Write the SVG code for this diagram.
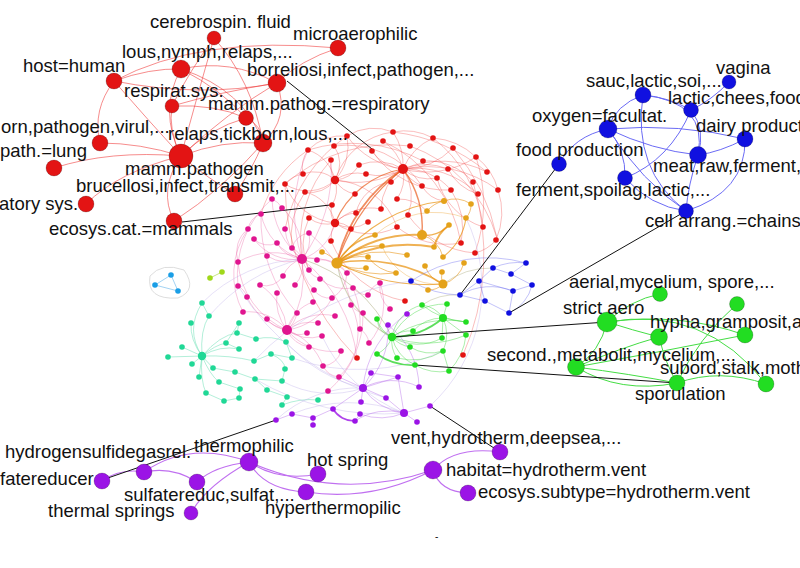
<svg xmlns="http://www.w3.org/2000/svg" width="800" height="568" viewBox="0 0 800 568">
<style>
text{font-family:"Liberation Sans",Arial,sans-serif;font-size:18.5px;fill:#111}
.e{fill:none;stroke-width:.8}
.er{stroke:#f04848;stroke-opacity:.45}
.eo{stroke:#e8900a;stroke-opacity:.7}
.ero{stroke:#e8500c;stroke-opacity:.65}
.ep{stroke:#e8509a;stroke-opacity:.4}
.et{stroke:#40d8a0;stroke-opacity:.5}
.eg{stroke:#40d840;stroke-opacity:.55}
.eb{stroke:#6a6af0;stroke-opacity:.5}
.eu{stroke:#b060e8;stroke-opacity:.5}
.el{stroke:#b8a8e8;stroke-opacity:.45}
.ex{stroke:#a8a878;stroke-opacity:.5}
.oR{fill:none;stroke:#f03a3a;stroke-width:.9;stroke-opacity:.65}
.oB{fill:none;stroke:#6b6bf5;stroke-width:1}
.oG{fill:none;stroke:#44dd44;stroke-width:1}
.oP{fill:none;stroke:#c070f0;stroke-width:1.1}
.lead{fill:none;stroke:#111;stroke-width:1}
.r{fill:#e31414}.o{fill:#e4a21a}.p{fill:#e0158f}.t{fill:#20d896}.g{fill:#22dd22}.b{fill:#1010e0}.u{fill:#9b14e6}.lb{fill:#1a9ee6}.yg{fill:#a0d81a}
circle.N{stroke:#000;stroke-opacity:.25;stroke-width:.8}
</style>

<g id="connectors">
<g class="e er">
<path d="M403,169A60,60 0 0 0 393,132"/><path d="M403,169A80,80 0 0 1 347,136"/><path d="M403,169A50,50 0 0 0 383,141"/><path d="M403,169A60,60 0 0 1 433,138"/><path d="M403,169A70,70 0 0 0 453,148"/><path d="M403,169A90,90 0 0 0 476,157"/><path d="M403,169A60,60 0 0 1 448,169"/><path d="M403,169A100,100 0 0 1 487,172"/><path d="M403,169A40,40 0 0 0 437,178"/><path d="M403,169A30,30 0 0 1 391,182"/><path d="M403,169A40,40 0 0 0 422,186"/><path d="M403,169A60,60 0 0 1 451,190"/><path d="M403,169A90,90 0 0 1 478,194"/><path d="M403,169A120,120 0 0 1 498,190"/><path d="M403,169A40,40 0 0 1 397,199"/><path d="M403,169A50,50 0 0 0 381,209"/><path d="M403,169A50,50 0 0 1 408,215"/><path d="M403,169A50,50 0 0 0 359,165"/><path d="M403,169A50,50 0 0 1 366,174"/><path d="M403,169A40,40 0 0 1 372,151"/>
<path d="M335,180A40,40 0 0 0 308,150"/><path d="M335,180A30,30 0 0 1 331,160"/><path d="M335,180A30,30 0 0 0 303,174"/><path d="M335,180A40,40 0 0 1 285,184"/><path d="M335,180A30,30 0 0 1 305,192"/><path d="M335,180A30,30 0 0 0 355,194"/><path d="M335,180A30,30 0 0 1 332,205"/><path d="M335,180A40,40 0 0 1 366,174"/><path d="M335,180A30,30 0 0 0 334,146"/><path d="M335,180A70,70 0 0 1 397,227"/><path d="M335,180A30,30 0 0 0 359,165"/><path d="M335,180A70,70 0 0 1 393,132"/><path d="M335,180A50,50 0 0 0 347,136"/><path d="M335,180A90,90 0 0 0 403,169"/>
<path d="M335,223A30,30 0 0 1 309,218"/><path d="M335,223A30,30 0 0 0 331,241"/><path d="M335,223A30,30 0 0 1 356,213"/><path d="M335,223A30,30 0 0 0 368,222"/><path d="M335,223A50,50 0 0 1 381,209"/><path d="M335,223A20,20 0 0 1 332,205"/><path d="M335,223A40,40 0 0 0 305,192"/><path d="M335,223A20,20 0 0 1 351,229"/><path d="M335,223A60,60 0 0 0 397,227"/><path d="M335,223A60,60 0 0 1 285,184"/>
<path d="M308,150A50,50 0 0 1 347,136"/><path d="M347,136A50,50 0 0 1 393,132"/><path d="M393,132A60,60 0 0 1 433,138"/><path d="M433,138A70,70 0 0 1 476,157"/><path d="M476,157A60,60 0 0 1 498,190"/><path d="M498,190A70,70 0 0 1 496,240"/><path d="M496,240A40,40 0 0 1 475,253"/><path d="M285,184A30,30 0 0 1 303,174"/><path d="M303,174A30,30 0 0 1 308,150"/><path d="M308,150A120,120 0 0 0 261,214"/><path d="M347,136A150,150 0 0 0 285,229"/><path d="M433,138A130,130 0 0 1 483,227"/><path d="M410,146A140,140 0 0 1 497,238"/><path d="M383,141A140,140 0 0 1 461,243"/><path d="M334,146A90,90 0 0 1 422,186"/><path d="M372,151A90,90 0 0 0 451,190"/><path d="M423,161A60,60 0 0 1 473,182"/><path d="M448,169A50,50 0 0 0 478,194"/><path d="M437,178A70,70 0 0 0 483,227"/><path d="M451,190A70,70 0 0 1 461,243"/><path d="M397,227A80,80 0 0 0 461,243"/><path d="M408,215A90,90 0 0 0 475,253"/><path d="M331,241A100,100 0 0 0 405,301"/><path d="M285,184A250,250 0 0 0 357,358"/><path d="M473,182A250,250 0 0 1 463,355"/><path d="M331,160A120,120 0 0 0 302,259"/><path d="M305,192A80,80 0 0 0 292,248"/><path d="M309,218A60,60 0 0 0 309,270"/><path d="M391,182A40,40 0 0 0 356,213"/><path d="M422,186A30,30 0 0 0 444,201"/><path d="M397,199A40,40 0 0 1 427,211"/><path d="M453,148A200,200 0 0 1 497,238"/><path d="M393,132A180,180 0 0 1 487,172"/><path d="M308,150A150,150 0 0 1 423,161"/><path d="M285,184A160,160 0 0 1 410,146"/><path d="M476,157A150,150 0 0 1 475,253"/>
</g>
<g class="e ero">
<path d="M337,263A150,150 0 0 1 403,169" stroke-width="1.8"/><path d="M337,263A200,200 0 0 1 403,169" stroke-width="1.2"/><path d="M422,235A100,100 0 0 0 403,169" stroke-width="1.4"/><path d="M403,169A90,90 0 0 0 335,223" stroke-width="1.2"/>
</g>
<g class="e eo">
<path d="M337,263A120,120 0 0 1 422,235" stroke-width="2"/><path d="M337,263A150,150 0 0 1 434,247" stroke-width="2"/><path d="M337,263A150,150 0 0 1 443,284" stroke-width="1.6"/><path d="M337,263A200,200 0 0 0 443,284" stroke-width="1"/><path d="M337,263A60,60 0 0 1 375,235" stroke-width="1.3"/><path d="M337,263A60,60 0 0 1 382,246" stroke-width="1.3"/><path d="M337,263A150,150 0 0 1 444,201" stroke-width="1.1"/><path d="M422,235A30,30 0 0 0 449,225" stroke-width="1.3"/><path d="M449,225A40,40 0 0 0 434,247" stroke-width="2"/><path d="M466,218A60,60 0 0 1 443,257" stroke-width="1.1"/><path d="M443,284A20,20 0 0 1 428,290"/><path d="M443,284A30,30 0 0 0 464,263"/><path d="M443,284A30,30 0 0 1 425,266"/><path d="M443,284A20,20 0 0 1 442,272"/><path d="M337,263A50,50 0 0 1 368,257"/><path d="M337,263A50,50 0 0 0 366,268"/><path d="M337,263A30,30 0 0 0 322,252"/><path d="M337,263A100,100 0 0 0 396,273"/><path d="M337,263A100,100 0 0 1 407,255"/><path d="M427,211A30,30 0 0 1 444,201"/><path d="M444,201A30,30 0 0 1 471,204"/><path d="M471,204A20,20 0 0 1 466,218"/><path d="M368,257A40,40 0 0 0 396,273"/><path d="M422,235A30,30 0 0 1 443,257"/><path d="M382,246A60,60 0 0 0 443,284" stroke-opacity=".4"/><path d="M375,235A90,90 0 0 1 466,218" stroke-opacity=".4"/>
</g>
<g class="e ep">
<path d="M302,259A60,60 0 0 1 261,214"/><path d="M302,259A60,60 0 0 0 282,208"/><path d="M302,259A40,40 0 0 1 285,229"/><path d="M302,259A30,30 0 0 0 309,233"/><path d="M302,259A30,30 0 0 1 277,243"/><path d="M302,259A20,20 0 0 0 292,248"/><path d="M302,259A40,40 0 0 1 267,256"/><path d="M302,259A20,20 0 0 1 317,260"/><path d="M302,259A30,30 0 0 0 283,276"/><path d="M302,259A30,30 0 0 1 295,285"/><path d="M302,259A40,40 0 0 0 314,290"/><path d="M302,259A70,70 0 0 0 238,262"/><path d="M302,259A50,50 0 0 1 254,239"/><path d="M302,259A50,50 0 0 0 335,223"/><path d="M302,259A20,20 0 0 1 309,270"/><path d="M302,259A30,30 0 0 0 320,279"/><path d="M302,259A50,50 0 0 1 347,273"/><path d="M302,259A80,80 0 0 1 272,199"/><path d="M302,259A150,150 0 0 1 308,150"/><path d="M302,259A150,150 0 0 0 331,160"/><path d="M302,259A150,150 0 0 1 357,358"/><path d="M302,259A100,100 0 0 1 287,330"/>
<path d="M287,330A30,30 0 0 0 297,313"/><path d="M287,330A30,30 0 0 1 267,319"/><path d="M287,330A50,50 0 0 0 243,312"/><path d="M287,330A40,40 0 0 1 318,323"/><path d="M287,330A20,20 0 0 0 307,333"/><path d="M287,330A40,40 0 0 0 322,336"/><path d="M287,330A50,50 0 0 1 277,293"/><path d="M287,330A60,60 0 0 1 247,297"/><path d="M287,330A60,60 0 0 0 260,285"/><path d="M287,330A40,40 0 0 1 313,302"/><path d="M287,330A60,60 0 0 0 341,351"/><path d="M287,330A50,50 0 0 1 335,316"/><path d="M287,330A30,30 0 0 0 309,347"/><path d="M287,330A60,60 0 0 1 323,366"/><path d="M287,330A60,60 0 0 0 332,298"/>
<path d="M272,199A20,20 0 0 1 282,208"/><path d="M248,229A30,30 0 0 0 238,262"/><path d="M261,214A20,20 0 0 0 248,229"/><path d="M347,273A30,30 0 0 1 332,298"/><path d="M351,305A20,20 0 0 0 363,313"/><path d="M368,295A20,20 0 0 1 380,283"/><path d="M360,329A20,20 0 0 1 369,343"/><path d="M323,366A20,20 0 0 0 339,377"/><path d="M341,351A20,20 0 0 1 323,366"/><path d="M353,288A20,20 0 0 0 368,295"/><path d="M238,286A20,20 0 0 1 247,297"/><path d="M390,309A30,30 0 0 1 380,283"/><path d="M320,279A40,40 0 0 0 353,288"/><path d="M292,248A20,20 0 0 1 309,233"/><path d="M254,239A20,20 0 0 0 277,243"/><path d="M283,276A20,20 0 0 1 260,285"/><path d="M314,290A20,20 0 0 0 332,298"/><path d="M317,260A30,30 0 0 1 347,273"/>
<path d="M238,262A80,80 0 0 0 287,330"/><path d="M248,229A80,80 0 0 0 243,312"/><path d="M272,199A100,100 0 0 0 238,286"/><path d="M351,305A60,60 0 0 1 339,377"/><path d="M380,283A60,60 0 0 1 369,343"/><path d="M363,313A100,100 0 0 1 328,391"/><path d="M261,214A140,140 0 0 0 297,313"/><path d="M309,233A120,120 0 0 1 351,305"/><path d="M353,288A90,90 0 0 1 360,329"/>
</g>
<g class="e et">
<path d="M202,356L182,347"/><path d="M202,356L168,357"/><path d="M202,356L192,364"/><path d="M202,356Q190,340 191,323"/><path d="M202,356Q200,330 209,316"/><path d="M202,356Q215,345 226,343"/><path d="M202,356L213,368"/><path d="M202,356L199,377"/><path d="M202,356Q200,380 206,393"/><path d="M202,356Q210,375 219,382"/><path d="M202,356Q220,345 239,349"/><path d="M202,356Q230,355 254,361"/><path d="M202,356Q185,330 202,303"/><path d="M202,356Q220,335 237,333"/>
<path d="M202,303L209,316"/><path d="M239,323L237,333"/><path d="M237,333L256,339"/><path d="M256,339Q272,335 286,342"/><path d="M235,372L255,379"/><path d="M255,379L282,381"/><path d="M271,354L292,358"/><path d="M285,369L282,381"/><path d="M267,390L287,397"/><path d="M240,389L239,398"/><path d="M224,401L239,398"/><path d="M282,405Q300,398 318,400"/><path d="M286,342L292,358"/><path d="M226,343L239,349"/><path d="M213,368L235,372"/><path d="M254,361L271,354"/><path d="M206,393L224,401"/><path d="M219,382L240,389"/><path d="M287,397L282,405"/><path d="M239,323L226,343"/><path d="M255,379Q262,385 267,390"/><path d="M271,354Q285,360 285,369"/>
</g>
<g class="e el">
<path d="M202,303A150,150 0 0 1 302,259"/><path d="M286,342A150,150 0 0 0 363,388"/><path d="M255,379A250,250 0 0 0 404,413"/><path d="M282,381A100,100 0 0 0 363,388"/><path d="M292,414A150,150 0 0 1 404,413"/><path d="M276,420A120,120 0 0 1 363,388"/><path d="M322,336A150,150 0 0 0 404,413"/><path d="M238,286A250,250 0 0 0 386,398"/><path d="M209,316A180,180 0 0 1 302,259"/><path d="M292,358A200,200 0 0 0 443,351"/><path d="M254,361A260,260 0 0 1 411,281"/><path d="M466,218A160,160 0 0 1 430,406"/>
</g>
<g class="e ex">
<path d="M337,263A100,100 0 0 0 392,337" stroke-width="1.2"/><path d="M302,259A150,150 0 0 1 392,337" stroke-width="1"/><path d="M443,284A80,80 0 0 1 493,268"/><path d="M422,305A60,60 0 0 1 460,295"/>
</g>
<g class="e eg">
<path d="M392,337A30,30 0 0 1 377,319"/><path d="M392,337A30,30 0 0 1 413,331"/><path d="M392,337A30,30 0 0 0 410,347"/><path d="M392,337A30,30 0 0 1 377,354"/><path d="M392,337A80,80 0 0 0 443,318" stroke-width="1.8" stroke-opacity=".85"/><path d="M392,337A40,40 0 0 1 422,305"/><path d="M392,337A60,60 0 0 1 447,304"/><path d="M392,337A50,50 0 0 0 442,338"/><path d="M392,337A30,30 0 0 0 397,358"/><path d="M392,337A40,40 0 0 0 415,365"/><path d="M392,337A100,100 0 0 1 466,322"/><path d="M392,337A100,100 0 0 0 466,335"/>
<path d="M443,318L447,304"/><path d="M443,318L466,322"/><path d="M443,318L466,335"/><path d="M443,318L442,338"/><path d="M443,318A40,40 0 0 0 413,331"/><path d="M443,318A30,30 0 0 0 422,305"/><path d="M443,318A40,40 0 0 1 443,351"/>
<path d="M377,354A60,60 0 0 0 415,365" stroke-width="1.6" stroke-opacity=".85"/><path d="M443,351L449,371"/><path d="M410,347A40,40 0 0 0 443,351"/><path d="M397,358A60,60 0 0 0 443,351"/><path d="M466,335A60,60 0 0 1 449,371"/><path d="M377,319A20,20 0 0 0 392,337"/><path d="M415,365A50,50 0 0 0 449,371"/><path d="M422,305A80,80 0 0 0 466,322"/>
</g>
<g class="e eb">
<path d="M460,295L479,281"/><path d="M479,281L493,268"/><path d="M493,268L511,274"/><path d="M511,274L532,285"/><path d="M526,263L511,274"/><path d="M479,281L513,291"/><path d="M513,291L532,285"/><path d="M485,301L509,313"/><path d="M513,291L509,313"/><path d="M460,295L485,301"/><path d="M411,281A100,100 0 0 0 460,295"/><path d="M479,281L485,301"/><path d="M493,268A60,60 0 0 1 526,263"/><path d="M532,285A40,40 0 0 1 509,313"/><path d="M460,295A60,60 0 0 1 513,291"/><path d="M411,281A140,140 0 0 1 526,263"/>
</g>
<g class="e eu">
<path d="M363,388L371,373"/><path d="M363,388L398,377"/><path d="M363,388L386,398"/><path d="M363,388L361,402"/><path d="M363,388L333,409"/><path d="M363,388A60,60 0 0 1 419,387"/><path d="M363,388A100,100 0 0 1 407,314"/><path d="M363,388A80,80 0 0 0 388,325"/><path d="M363,388L339,377"/><path d="M363,388A60,60 0 0 0 404,413"/>
<path d="M404,413L417,422"/><path d="M404,413L430,406"/><path d="M404,413L398,377"/><path d="M404,413L386,398"/><path d="M404,413A60,60 0 0 1 360,414"/><path d="M404,413A60,60 0 0 0 355,421"/>
<path d="M292,414L313,418"/><path d="M313,418L333,409"/><path d="M313,418L313,425"/><path d="M355,421L360,414"/><path d="M276,420L292,414"/><path d="M371,373L398,377"/><path d="M388,325A80,80 0 0 1 419,387"/>
<path d="M333,409A25,25 0 0 0 355,421" stroke="#9b14e6" stroke-opacity=".8" stroke-width="1.6"/>
</g>
<g class="e">
<path d="M171,275L155,285L178,291Z" stroke="#5aaee8" stroke-opacity=".7"/>
<path d="M150,276Q162,262 184,270Q198,290 178,298Q146,300 150,276Z" stroke="#d4d4d4"/>
<path d="M210,278L222,272" stroke="#b8e060"/>
</g>

<path class="oR" d="M114,81Q200,35 338,48"/>
<path class="oR" d="M114,81Q200,98 277,83"/>
<path class="oR" d="M114,81Q150,68 181,69"/>
<path class="oR" d="M114,81Q92,110 100,143"/>
<path class="oR" d="M181,69Q230,58 277,83"/>
<path class="oR" d="M181,69Q245,90 263,143"/>
<path class="oR" d="M181,69Q158,110 181,156"/>
<path class="oR" d="M214,38Q252,80 263,143"/>
<path class="oR" d="M214,38Q196,100 181,156"/>
<path class="oR" d="M214,38Q190,70 172,106"/>
<path class="oR" d="M277,83Q220,92 172,106"/>
<path class="oR" d="M277,83Q228,112 181,156"/>
<path class="oR" d="M338,48Q300,60 277,83"/>
<path class="oR" d="M181,156Q110,150 54,168"/>
<path class="oR" d="M181,156Q140,143 100,143"/>
<path class="oR" d="M181,156Q222,140 263,143"/>
<path class="oR" d="M181,156Q210,180 235,194" stroke-width="2" stroke-opacity=".85"/>
<path class="oR" d="M181,156Q158,190 174,221"/>
<path class="oR" d="M181,156Q118,172 86,204"/>
<path class="oR" d="M181,156Q210,128 246,118"/>
<path class="oR" d="M181,156Q168,130 172,106"/>
<path class="oR" d="M172,106Q215,104 246,118"/>
<path class="oR" d="M246,118Q262,125 263,143"/>
<path class="oR" d="M263,143Q222,190 174,221"/>
<path class="oR" d="M181,69Q222,90 246,118"/>
<path class="oR" d="M263,143Q252,170 235,194"/>
<path class="oR" d="M277,83Q290,118 263,143"/>
<path class="oR" d="M114,81Q148,120 181,156"/>
<path class="oB" d="M643,95Q615,105 608,129"/>
<path class="oB" d="M643,95Q668,97 691,110"/>
<path class="oB" d="M643,95Q632,170 686,211"/>
<path class="oB" d="M729,82Q712,100 691,110"/>
<path class="oB" d="M691,110Q670,160 625,178"/>
<path class="oB" d="M691,110Q706,130 698,155"/>
<path class="oB" d="M608,129Q574,136 559,164"/>
<path class="oB" d="M608,129Q652,150 698,155"/>
<path class="oB" d="M608,129Q680,123 745,139"/>
<path class="oB" d="M608,129Q626,150 625,178"/>
<path class="oB" d="M608,129Q642,182 686,211"/>
<path class="oB" d="M745,139Q720,152 698,155"/>
<path class="oB" d="M745,139Q746,192 686,211"/>
<path class="oB" d="M698,155Q688,185 686,211"/>
<path class="oB" d="M625,178Q650,206 686,211"/>
<path class="oB" d="M643,95Q708,102 698,155"/>
<path class="oG" d="M607,322Q630,300 660,294" stroke-width="2.6"/>
<path class="oG" d="M607,322Q600,352 576,367" stroke-width="2.6"/>
<path class="oG" d="M576,367Q620,394 677,383" stroke-width="2.6"/>
<path class="oG" d="M607,322Q632,330 659,337"/>
<path class="oG" d="M607,322Q705,305 766,384"/>
<path class="oG" d="M607,322Q680,312 745,335"/>
<path class="oG" d="M576,367Q620,348 659,337"/>
<path class="oG" d="M576,367Q660,352 745,335"/>
<path class="oG" d="M659,337Q666,365 677,383"/>
<path class="oG" d="M737,304Q698,338 677,383"/>
<path class="oG" d="M677,383Q720,368 766,384"/>
<path class="oG" d="M576,367Q630,374 677,383"/>
<path class="oP" d="M102,481Q120,468 144,472"/>
<path class="oP" d="M144,472Q190,440 249,462"/>
<path class="oP" d="M144,472Q172,466 197,482"/>
<path class="oP" d="M249,462Q214,466 197,482"/>
<path class="oP" d="M249,462Q206,486 191,513"/>
<path class="oP" d="M249,462Q280,482 318,474"/>
<path class="oP" d="M249,462Q264,490 306,492" stroke-width="2.6"/>
<path class="oP" d="M249,462Q340,502 433,470"/>
<path class="oP" d="M306,492Q372,502 433,470"/>
<path class="oP" d="M433,470Q454,446 500,452"/>
<path class="oP" d="M433,470Q440,492 468,493"/>
<path class="lead" d="M287,81L372,149"/>
<path class="lead" d="M182,222L330,205"/>
<path class="lead" d="M559,164L460,295"/>
<path class="lead" d="M686,211L509,313"/>
<path class="lead" d="M607,322L392,337"/>
<path class="lead" d="M677,383L415,365"/>
<path class="lead" d="M102,480L276,420"/>
<path class="lead" d="M500,452L430,406"/>
</g>

<g id="core-red" class="r">
<circle cx="393" cy="132" r="2.8"/><circle cx="347" cy="136" r="2.8"/><circle cx="383" cy="141" r="2.8"/><circle cx="433" cy="138" r="2.8"/><circle cx="334" cy="146" r="2.8"/><circle cx="372" cy="151" r="2.8"/><circle cx="410" cy="146" r="2.8"/><circle cx="453" cy="148" r="2.8"/><circle cx="476" cy="157" r="2.8"/><circle cx="308" cy="150" r="2.8"/><circle cx="331" cy="160" r="2.8"/><circle cx="359" cy="165" r="2.8"/><circle cx="423" cy="161" r="2.8"/><circle cx="448" cy="169" r="2.8"/><circle cx="487" cy="172" r="2.8"/><circle cx="303" cy="174" r="2.8"/><circle cx="366" cy="174" r="2.8"/><circle cx="391" cy="182" r="2.8"/><circle cx="437" cy="178" r="2.8"/><circle cx="285" cy="184" r="2.8"/><circle cx="473" cy="182" r="2.8"/><circle cx="422" cy="186" r="2.8"/><circle cx="305" cy="192" r="2.8"/><circle cx="355" cy="194" r="2.8"/><circle cx="397" cy="199" r="2.8"/><circle cx="451" cy="190" r="2.8"/><circle cx="478" cy="194" r="2.8"/><circle cx="498" cy="190" r="2.8"/><circle cx="332" cy="205" r="2.8"/><circle cx="381" cy="209" r="2.8"/><circle cx="356" cy="213" r="2.8"/><circle cx="408" cy="215" r="2.8"/><circle cx="309" cy="218" r="2.8"/><circle cx="368" cy="222" r="2.8"/><circle cx="397" cy="227" r="2.8"/><circle cx="483" cy="227" r="2.8"/><circle cx="351" cy="229" r="2.8"/><circle cx="331" cy="241" r="2.8"/><circle cx="496" cy="240" r="2.8"/><circle cx="461" cy="243" r="2.8"/><circle cx="475" cy="253" r="2.8"/><circle cx="405" cy="301" r="2.8"/><circle cx="357" cy="358" r="2.8"/><circle cx="463" cy="355" r="2.8"/>
<circle cx="403" cy="169" r="5"/><circle cx="335" cy="180" r="4.2"/><circle cx="335" cy="223" r="4.2"/>
</g>
<g id="core-orange" class="o">
<circle cx="444" cy="201" r="3"/><circle cx="471" cy="204" r="2.8"/><circle cx="427" cy="211" r="2.8"/><circle cx="466" cy="218" r="2.8"/><circle cx="449" cy="225" r="2.8"/><circle cx="375" cy="235" r="2.8"/><circle cx="382" cy="246" r="2.8"/><circle cx="434" cy="247" r="2.8"/><circle cx="322" cy="252" r="2.8"/><circle cx="368" cy="257" r="2.8"/><circle cx="407" cy="255" r="2.8"/><circle cx="443" cy="257" r="2.8"/><circle cx="464" cy="263" r="2.8"/><circle cx="425" cy="266" r="2.8"/><circle cx="366" cy="268" r="2.8"/><circle cx="396" cy="273" r="2.8"/><circle cx="442" cy="272" r="2.8"/><circle cx="428" cy="290" r="2.8"/>
<circle cx="422" cy="235" r="5"/><circle cx="337" cy="263" r="5.6"/><circle cx="443" cy="284" r="4.5"/>
</g>
<g id="core-pink" class="p">
<circle cx="272" cy="199" r="2.8"/><circle cx="282" cy="208" r="2.8"/><circle cx="261" cy="214" r="2.8"/><circle cx="248" cy="229" r="2.8"/><circle cx="285" cy="229" r="2.8"/><circle cx="309" cy="233" r="2.8"/><circle cx="254" cy="239" r="2.8"/><circle cx="277" cy="243" r="2.8"/><circle cx="292" cy="248" r="2.8"/><circle cx="267" cy="256" r="2.8"/><circle cx="317" cy="260" r="2.8"/><circle cx="238" cy="262" r="2.8"/><circle cx="309" cy="270" r="2.8"/><circle cx="283" cy="276" r="2.8"/><circle cx="347" cy="273" r="2.8"/><circle cx="320" cy="279" r="2.8"/><circle cx="260" cy="285" r="2.8"/><circle cx="238" cy="286" r="2.8"/><circle cx="295" cy="285" r="2.8"/><circle cx="314" cy="290" r="2.8"/><circle cx="353" cy="288" r="2.8"/><circle cx="380" cy="283" r="2.8"/><circle cx="247" cy="297" r="2.8"/><circle cx="277" cy="293" r="2.8"/><circle cx="332" cy="298" r="2.8"/><circle cx="368" cy="295" r="2.8"/><circle cx="313" cy="302" r="2.8"/><circle cx="243" cy="312" r="2.8"/><circle cx="351" cy="305" r="2.8"/><circle cx="390" cy="309" r="2.8"/><circle cx="297" cy="313" r="2.8"/><circle cx="363" cy="313" r="2.8"/><circle cx="335" cy="316" r="2.8"/><circle cx="267" cy="319" r="2.8"/><circle cx="318" cy="323" r="2.8"/><circle cx="360" cy="329" r="2.8"/><circle cx="322" cy="336" r="2.8"/><circle cx="307" cy="333" r="2.8"/><circle cx="369" cy="343" r="2.8"/><circle cx="341" cy="351" r="2.8"/><circle cx="309" cy="347" r="2.8"/><circle cx="323" cy="366" r="2.8"/><circle cx="339" cy="377" r="2.8"/><circle cx="328" cy="391" r="2.8"/>
<circle cx="302" cy="259" r="5"/><circle cx="287" cy="330" r="5"/>
</g>
<g id="core-teal" class="t">
<circle cx="202" cy="303" r="2.8"/><circle cx="209" cy="316" r="2.8"/><circle cx="191" cy="323" r="2.8"/><circle cx="239" cy="323" r="2.8"/><circle cx="237" cy="333" r="2.8"/><circle cx="256" cy="339" r="2.8"/><circle cx="226" cy="343" r="2.8"/><circle cx="239" cy="349" r="2.8"/><circle cx="286" cy="342" r="2.8"/><circle cx="182" cy="347" r="2.8"/><circle cx="168" cy="357" r="2.8"/><circle cx="192" cy="364" r="2.8"/><circle cx="271" cy="354" r="2.8"/><circle cx="292" cy="358" r="2.8"/><circle cx="254" cy="361" r="2.8"/><circle cx="213" cy="368" r="2.8"/><circle cx="235" cy="372" r="2.8"/><circle cx="285" cy="369" r="2.8"/><circle cx="199" cy="377" r="2.8"/><circle cx="255" cy="379" r="2.8"/><circle cx="219" cy="382" r="2.8"/><circle cx="282" cy="381" r="2.8"/><circle cx="267" cy="390" r="2.8"/><circle cx="240" cy="389" r="2.8"/><circle cx="206" cy="393" r="2.8"/><circle cx="287" cy="397" r="2.8"/><circle cx="239" cy="398" r="2.8"/><circle cx="224" cy="401" r="2.8"/><circle cx="282" cy="405" r="2.8"/><circle cx="318" cy="400" r="2.8"/>
<circle cx="202" cy="356" r="4.2"/>
</g>
<g id="core-green" class="g">
<circle cx="422" cy="305" r="2.8"/><circle cx="447" cy="304" r="2.8"/><circle cx="377" cy="319" r="2.8"/><circle cx="466" cy="322" r="2.8"/><circle cx="413" cy="331" r="2.8"/><circle cx="442" cy="338" r="2.8"/><circle cx="466" cy="335" r="2.8"/><circle cx="410" cy="347" r="2.8"/><circle cx="377" cy="354" r="2.8"/><circle cx="397" cy="358" r="2.8"/><circle cx="443" cy="351" r="2.8"/><circle cx="415" cy="365" r="2.8"/><circle cx="449" cy="371" r="2.8"/>
<circle cx="392" cy="337" r="4.2"/><circle cx="443" cy="318" r="4"/>
</g>
<g id="core-blue" class="b">
<circle cx="411" cy="281" r="2.8"/><circle cx="526" cy="263" r="2.8"/><circle cx="493" cy="268" r="2.8"/><circle cx="511" cy="274" r="2.8"/><circle cx="479" cy="281" r="2.8"/><circle cx="532" cy="285" r="2.8"/><circle cx="513" cy="291" r="2.8"/><circle cx="460" cy="295" r="2.8"/><circle cx="485" cy="301" r="2.8"/><circle cx="509" cy="313" r="2.8"/>
</g>
<g id="core-purple" class="u">
<circle cx="407" cy="314" r="2.8"/><circle cx="388" cy="325" r="2.8"/><circle cx="371" cy="373" r="2.8"/><circle cx="398" cy="377" r="2.8"/><circle cx="419" cy="387" r="2.8"/><circle cx="386" cy="398" r="2.8"/><circle cx="361" cy="402" r="2.8"/><circle cx="333" cy="409" r="2.8"/><circle cx="430" cy="406" r="2.8"/><circle cx="313" cy="418" r="2.8"/><circle cx="360" cy="414" r="2.8"/><circle cx="355" cy="421" r="2.8"/><circle cx="417" cy="422" r="2.8"/><circle cx="313" cy="425" r="2.8"/><circle cx="276" cy="420" r="2.8"/><circle cx="292" cy="414" r="2.8"/>
<circle cx="363" cy="388" r="4"/><circle cx="404" cy="413" r="4"/>
</g>
<g id="core-outliers">
<circle class="lb" cx="171" cy="275" r="2.8"/><circle class="lb" cx="155" cy="285" r="2.8"/><circle class="lb" cx="178" cy="291" r="2.8"/>
<circle class="yg" cx="210" cy="278" r="2.8"/><circle class="yg" cx="222" cy="272" r="2.8"/>
</g>

<g id="n-cerebrospin"><circle class="r N" cx="214" cy="38" r="7"/><text x="150" y="28">cerebrospin. fluid</text></g>
<g id="n-microaerophilic"><circle class="r N" cx="338" cy="48" r="8"/><text x="293" y="40">microaerophilic</text></g>
<g id="n-lous"><circle class="r N" cx="181" cy="69" r="9"/><text x="122" y="58">lous,nymph,relaps,...</text></g>
<g id="n-host"><circle class="r N" cx="114" cy="81" r="8"/><text x="23" y="72">host=human</text></g>
<g id="n-borreliosi"><circle class="r N" cx="277" cy="83" r="9"/><text x="247" y="76">borreliosi,infect,pathogen,...</text></g>
<g id="n-respirat"><circle class="r N" cx="172" cy="106" r="7"/><text x="124" y="97">respirat.sys.</text></g>
<g id="n-mammrespi"><circle class="r N" cx="246" cy="118" r="7.5"/><text x="208" y="110">mamm.pathog.=respiratory</text></g>
<g id="n-virul"><circle class="r N" cx="100" cy="143" r="8"/><text x="1" y="133">orn,pathogen,virul,...</text></g>
<g id="n-relaps"><circle class="r N" cx="263" cy="143" r="9"/><text x="168" y="140">relaps,tickborn,lous,...</text></g>
<g id="n-lung"><circle class="r N" cx="54" cy="168" r="8"/><text x="0" y="157">path.=lung</text></g>
<g id="n-mammpath"><circle class="r N" cx="181" cy="156" r="12"/><text x="125" y="175">mamm.pathogen</text></g>
<g id="n-brucellosi"><circle class="r N" cx="235" cy="194" r="8"/><text x="76" y="192">brucellosi,infect,transmit,...</text></g>
<g id="n-atory"><circle class="r N" cx="86" cy="204" r="8"/><text x="-1" y="210">atory sys.</text></g>
<g id="n-ecosyscat"><circle class="r N" cx="174" cy="221" r="8"/><text x="49" y="235">ecosys.cat.=mammals</text></g>

<g id="n-vagina"><circle class="b N" cx="729" cy="82" r="7"/><text x="716" y="74">vagina</text></g>
<g id="n-sauc"><circle class="b N" cx="643" cy="95" r="8"/><text x="586" y="87">sauc,lactic,soi,...</text></g>
<g id="n-lactic"><circle class="b N" cx="691" cy="110" r="7.5"/><text x="668" y="104">lactic,chees,food</text></g>
<g id="n-oxygen"><circle class="b N" cx="608" cy="129" r="9"/><text x="532" y="122">oxygen=facultat.</text></g>
<g id="n-dairy"><circle class="b N" cx="745" cy="139" r="8"/><text x="696" y="132">dairy product</text></g>
<g id="n-food"><circle class="b N" cx="559" cy="164" r="7.5"/><text x="516" y="156">food production</text></g>
<g id="n-meat"><circle class="b N" cx="698" cy="155" r="8.5"/><text x="653" y="172">meat,raw,ferment,</text></g>
<g id="n-ferment"><circle class="b N" cx="625" cy="178" r="7.5"/><text x="516" y="196">ferment,spoilag,lactic,...</text></g>
<g id="n-cell"><circle class="b N" cx="686" cy="211" r="7.5"/><text x="645" y="227">cell arrang.=chains</text></g>

<g id="n-aerial"><circle class="g N" cx="660" cy="294" r="7.5"/><text x="569" y="288">aerial,mycelium, spore,...</text></g>
<g id="n-green-u1"><circle class="g N" cx="737" cy="304" r="7.5"/></g>
<g id="n-strict"><circle class="g N" cx="607" cy="322" r="10"/><text x="563" y="314">strict aero</text></g>
<g id="n-hypha"><circle class="g N" cx="659" cy="337" r="8.5"/><text x="650" y="328">hypha,gramposit,a</text></g>
<g id="n-green-u2"><circle class="g N" cx="745" cy="335" r="8"/></g>
<g id="n-second"><circle class="g N" cx="576" cy="367" r="8.5"/><text x="487" y="361">second.,metabolit,mycelium,...</text></g>
<g id="n-subord"><circle class="g N" cx="766" cy="384" r="8"/><text x="660" y="374">subord,stalk,moth</text></g>
<g id="n-sporulation"><circle class="g N" cx="677" cy="383" r="8"/><text x="635" y="400">sporulation</text></g>

<g id="n-hydrogensulfide"><circle class="u N" cx="144" cy="472" r="8"/><text x="5" y="458">hydrogensulfidegasrel.</text></g>
<g id="n-fatereducer"><circle class="u N" cx="102" cy="481" r="8"/><text x="0" y="485">fatereducer</text></g>
<g id="n-thermophilic"><circle class="u N" cx="249" cy="462" r="9"/><text x="194" y="452">thermophilic</text></g>
<g id="n-hotspring"><circle class="u N" cx="318" cy="474" r="8"/><text x="307" y="466">hot spring</text></g>
<g id="n-sulfatereduc"><circle class="u N" cx="197" cy="482" r="8"/><text x="124" y="501">sulfatereduc,sulfat,...</text></g>
<g id="n-thermalsprings"><circle class="u N" cx="191" cy="513" r="7"/><text x="48" y="517">thermal springs</text></g>
<g id="n-hyperthermo"><circle class="u N" cx="306" cy="492" r="8"/><text x="265" y="514">hyperthermopilic</text></g>
<g id="n-vent"><circle class="u N" cx="500" cy="452" r="8"/><text x="391" y="444">vent,hydrotherm,deepsea,...</text></g>
<g id="n-habitat"><circle class="u N" cx="433" cy="470" r="9"/><text x="446" y="476">habitat=hydrotherm.vent</text></g>
<g id="n-ecosyssub"><circle class="u N" cx="468" cy="493" r="8"/><text x="478" y="498">ecosys.subtype=hydrotherm.vent</text></g>
<text x="435" y="540" style="font-size:10px">-</text>
</svg>
